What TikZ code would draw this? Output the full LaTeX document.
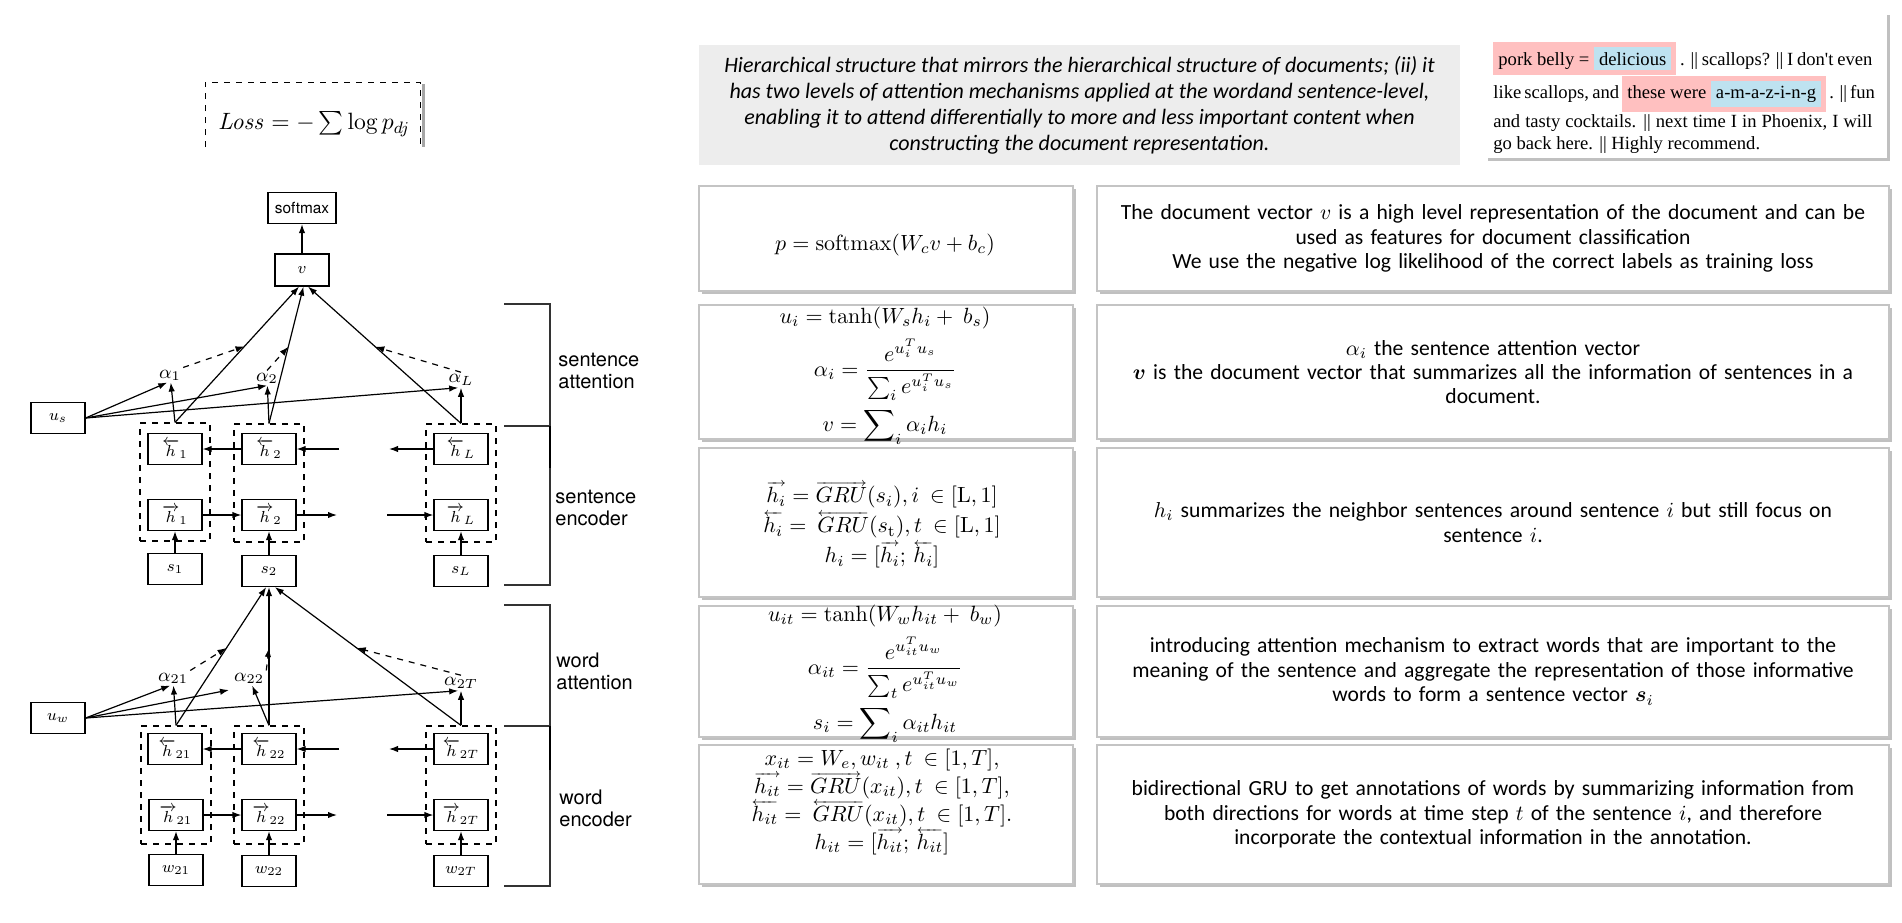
\RequirePackage{fix-cm}
\documentclass[tikz,border=0pt]{standalone}
\usepackage{amsmath, amssymb, bm}
\usepackage[no-math]{fontspec}
\setmainfont{Carlito}
\newfontfamily\helvfont{TeX Gyre Heros}
\newfontfamily\reviewfont{Liberation Serif}
\usepackage{tikz}
\usetikzlibrary{arrows.meta, calc, shadows}
\definecolor{PanelGray}{RGB}{237,237,237}
\definecolor{PanelEdge}{RGB}{196,196,196}
\definecolor{HLpink}{RGB}{255,192,192}
\definecolor{HLblue}{RGB}{190,226,240}
\newcommand{\hlpink}[1]{{\fboxsep=2.5pt\colorbox{HLpink}{#1}}}
\newcommand{\hlblue}[1]{{\fboxsep=2.5pt\colorbox{HLblue}{#1}}}
\newcommand{\fwdarrow}[1]{\mathord{\vbox{\offinterlineskip\ialign{##\crcr
	{\fontsize{6}{6}\selectfont\rightarrowfill}\crcr\noalign{\kern0.6pt}\hfil$#1$\hfil\crcr}}}}
\newcommand{\bwdarrow}[1]{\mathord{\vbox{\offinterlineskip\ialign{##\crcr
	{\fontsize{6}{6}\selectfont\leftarrowfill}\crcr\noalign{\kern0.6pt}\hfil$#1$\hfil\crcr}}}}

\begin{document}
\begin{tikzpicture}[x=0.5pt, y=-0.5pt,
	blk/.style={draw, line width=0.6pt, minimum width=27pt, minimum height=15.5pt, inner sep=0pt, font=\fontsize{8}{9}\selectfont},
	col/.style={draw, dashed, line width=0.6pt, minimum width=35pt, minimum height=59pt, inner sep=0pt},
	lbl/.style={inner sep=1pt, font=\fontsize{9.5}{10}\selectfont},
	arr/.style={-{Latex[length=4.5pt, width=3.2pt]}, line width=0.6pt},
	darr/.style={arr, dashed},
	brk/.style={line width=0.65pt, black!80},
	side/.style={anchor=west, align=left, inner sep=0pt, font=\helvfont\fontsize{10}{11}\selectfont},
	panel/.style={draw=PanelEdge, line width=0.9pt, fill=white, inner sep=0pt,
		drop shadow={shadow xshift=1.5pt, shadow yshift=-1.5pt, fill=black!45, opacity=0.55}},
	eq/.style={font=\fontsize{11}{13}\selectfont, inner sep=0pt},
	eqlines/.style={align=center, inner sep=0pt},
	desc/.style={align=center, text width=390pt, font=\fontsize{10.8}{12.2}\selectfont},
	rev/.style={anchor=base west, inner sep=0pt, font=\reviewfont\fontsize{9.3}{11}\selectfont}]

	\useasboundingbox (0,0) rectangle (1902,922);

	% --- loss ---
	\node[font=\fontsize{11.8}{14}\selectfont] (loss) at (314,124) {$\mathit{Loss} = -\sum \log p_{dj}$};
	\draw[gray!70, line width=1.5pt] (423,84) -- (423,147);
	\draw[dashed, line width=0.5pt] (205,147) -- (205,82) -- (420,82) -- (420,147);

	% --- sentence level ---
	\node[blk, minimum width=34pt, font=\helvfont\fontsize{7.7}{9}\selectfont] (sm) at (302,208) {softmax};
	\node[blk, minimum height=16pt] (v) at (302,270) {$v$};
	\node[blk] (us) at (58,418) {$u_s$};
	\node[col] (c1) at (175,482) {};
	\node[col] (c2) at (269,483) {};
	\node[col] (cL) at (461,483) {};
	\node[blk] (hb1) at (175,449) {$\overleftarrow{h}_1$};
	\node[blk] (hb2) at (269,449) {$\overleftarrow{h}_2$};
	\node[blk] (hbL) at (461,449) {$\overleftarrow{h}_L$};
	\node[blk] (hf1) at (175,515) {$\overrightarrow{h}_1$};
	\node[blk] (hf2) at (269,515) {$\overrightarrow{h}_2$};
	\node[blk] (hfL) at (461,515) {$\overrightarrow{h}_L$};
	\node[blk] (s1) at (175,569) {$s_1$};
	\node[blk] (s2) at (269,571) {$s_2$};
	\node[blk] (sL) at (461,571) {$s_L$};
	\node[lbl] (a1) at (170,375) {$\alpha_1$};
	\node[lbl] (a2) at (267,378) {$\alpha_2$};
	\node[lbl] (aL) at (461,380) {$\alpha_L$};
	\coordinate (gf1) at (337,515); \coordinate (gf2) at (387,515);
	\coordinate (gb1) at (339,449); \coordinate (gb2) at (389,449);
	\coordinate (m1) at ($(c1.north)!0.56!(v.260)$);
	\coordinate (m2) at ($(c2.north)!0.56!(v.275)$);
	\coordinate (mL) at ($(cL.north)!0.56!(v.290)$);

	\draw[arr] (v) -- (sm);
	\draw[arr] (s1) -- (hf1); \draw[arr] (s2) -- (hf2); \draw[arr] (sL) -- (hfL);
	\draw[arr] (hf1) -- (hf2); \draw[arr] (hf2) -- (gf1); \draw[arr] (gf2) -- (hfL);
	\draw[arr] (hb2) -- (hb1); \draw[arr] (gb1) -- (hb2); \draw[arr] (hbL) -- (gb2);
	\draw[arr] (c1.north) -- (a1); \draw[arr] (c2.north) -- (a2); \draw[arr] (cL.north) -- (aL);
	\draw[arr] (us.east) -- (a1.250); \draw[arr] (us.east) -- (a2.south); \draw[arr] (us.east) -- (aL.250);
	\draw[arr] (c1.north) -- (v.260); \draw[arr] (c2.north) -- (v.275); \draw[arr] (cL.north) -- (v.290);
	\draw[darr] (a1.north east) -- (m1); \draw[darr] (a2.north) -- (m2); \draw[darr] (aL.north) -- (mL);

	% --- word level ---
	\node[blk] (uw) at (58,718) {$u_w$};
	\node[col] (c21) at (176,785) {};
	\node[col] (c22) at (269,785) {};
	\node[col] (c2T) at (461,785) {};
	\node[blk] (hb21) at (175,749) {$\overleftarrow{h}_{21}$};
	\node[blk] (hb22) at (269,749) {$\overleftarrow{h}_{22}$};
	\node[blk] (hb2T) at (461,749) {$\overleftarrow{h}_{2T}$};
	\node[blk] (hf21) at (176,815) {$\overrightarrow{h}_{21}$};
	\node[blk] (hf22) at (269,815) {$\overrightarrow{h}_{22}$};
	\node[blk] (hf2T) at (461,815) {$\overrightarrow{h}_{2T}$};
	\node[blk] (w21) at (176,870) {$w_{21}$};
	\node[blk] (w22) at (269,871) {$w_{22}$};
	\node[blk] (w2T) at (461,871) {$w_{2T}$};
	\node[lbl] (a21) at (173,678) {$\alpha_{21}$};
	\node[lbl] (a22) at (249,678) {$\alpha_{22}$};
	\node[lbl] (a2T) at (461,683) {$\alpha_{2T}$};
	\coordinate (wf1) at (337,815); \coordinate (wf2) at (387,815);
	\coordinate (wb1) at (339,749); \coordinate (wb2) at (389,749);
	\coordinate (uwend) at (229,690);
	\coordinate (n21) at ($(c21.north)!0.56!(s2.260)$);
	\coordinate (n22) at ($(c22.north)!0.56!(s2.south)$);
	\coordinate (n2T) at ($(c2T.north)!0.56!(s2.290)$);

	\draw[arr] (w21) -- (hf21); \draw[arr] (w22) -- (hf22); \draw[arr] (w2T) -- (hf2T);
	\draw[arr] (hf21) -- (hf22); \draw[arr] (hf22) -- (wf1); \draw[arr] (wf2) -- (hf2T);
	\draw[arr] (hb22) -- (hb21); \draw[arr] (wb1) -- (hb22); \draw[arr] (hb2T) -- (wb2);
	\draw[arr] (c21.north) -- (a21); \draw[arr] (c22.north) -- (a22); \draw[arr] (c2T.north) -- (a2T);
	\draw[arr] (uw.east) -- (a21.250); \draw[arr] (uw.east) -- (uwend); \draw[arr] (uw.east) -- (a2T.250);
	\draw[arr] (c21.north) -- (s2.260); \draw[arr] (c22.north) -- (s2.south); \draw[arr] (c2T.north) -- (s2.290);
	\draw[darr] (a21.north east) -- (n21); \draw[darr] (a22.north east) -- (n22); \draw[darr] (a2T.north) -- (n2T);

	% --- brackets ---
	\draw[brk] (504,304) -- (550,304) -- (550,585) -- (504,585);
	\draw[brk] (504,426) -- (550,426);
	\draw[line width=1.3pt] (550,426) -- (550,468);
	\draw[brk] (504,605) -- (550,605) -- (550,886) -- (504,886);
	\draw[brk] (504,726) -- (550,726);
	\draw[line width=1.3pt] (550,726) -- (550,770);
	\node[side] (lsa) at (558,371) {sentence\\attention};
	\node[side] (lse) at (555,508) {sentence\\encoder};
	\node[side] (lwa) at (556,671) {word\\attention};
	\node[side] (lwe) at (559,808) {word\\encoder};

	% --- summary ---
	\node[fill=PanelGray, minimum width=380.5pt, minimum height=60pt, align=center,
		font=\fontsize{11}{13}\selectfont\itshape] (summ) at (1079.5,105)
		{Hierarchical structure that mirrors the hierarchical structure of documents; (ii) it\\
		 has two levels of attention mechanisms applied at the wordand sentence-level,\\
		 enabling it to attend differentially to more and less important content when\\
		 constructing the document representation.};

	% --- review ---
	\node[panel, draw=none, minimum width=201pt, minimum height=73pt] (review) at (1686,85) {};
	\node[rev] (r1) at (1493,65) {\makebox[189.5pt][s]{\hlpink{pork belly = \hlblue{delicious}} . || scallops? || I don't even}};
	\node[rev] (r2) at (1493,98) {\makebox[189.5pt][s]{like scallops, and \hlpink{these were \hlblue{a-m-a-z-i-n-g}} . || fun}};
	\node[rev] (r3) at (1493,127) {\makebox[189.5pt][s]{and tasty cocktails.  || next time I in Phoenix, I will}};
	\node[rev] (r4) at (1493,149) {go back here. || Highly recommend.};

	% --- equations ---
	\node[panel, minimum width=187pt, minimum height=52.5pt] (p1) at (886,238.5) {};
	\node[panel, minimum width=187pt, minimum height=67pt] (p2) at (886,372) {};
	\node[panel, minimum width=187pt, minimum height=74.5pt] (p3) at (886,522.5) {};
	\node[panel, minimum width=187pt, minimum height=65.5pt] (p4) at (886,671.5) {};
	\node[panel, minimum width=187pt, minimum height=69.5pt] (p5) at (886,814.5) {};
	\node[eq] (f1) at (885,245) {$p = \mathrm{softmax}(W_c v + b_c)$};
	\node[eq] (f2) at (885,375) {$\begin{gathered}
		u_i = \tanh(W_s h_i +\ b_s)\\
		\alpha_i = \frac{e^{u_i^T u_s}}{\sum_i e^{u_i^T u_s}}\\
		v = \sum\nolimits_i \alpha_i h_i
		\end{gathered}$};
	\node[eqlines, font={\fontsize{11}{15}\selectfont\lineskiplimit=-20pt}] (f3) at (882,525)
		{$\fwdarrow{h_i} = \fwdarrow{GRU}(s_i), i \ \in [\mathrm{L}, 1]$\\
		 $\bwdarrow{h_i} = \ \bwdarrow{GRU}(s_\mathrm{t}), t \ \in [\mathrm{L}, 1]$\\
		 $h_i = [\fwdarrow{h_i};\, \bwdarrow{h_i}]$};
	\node[eq] (f4) at (885,673) {$\begin{gathered}
		u_{it} = \tanh(W_w h_{it} +\ b_w)\\
		\alpha_{it} = \frac{e^{u_{it}^T u_w}}{\sum_t e^{u_{it}^T u_w}}\\
		s_i = \sum\nolimits_i \alpha_{it} h_{it}
		\end{gathered}$};
	\node[eqlines, font={\fontsize{11}{14}\selectfont\lineskiplimit=-20pt}] (f5) at (882,802)
		{$x_{it} = W_e, w_{it}\ , t \ \in [1, T],$\\
		 $\fwdarrow{h_{it}} = \fwdarrow{GRU}(x_{it}), t \ \in [1, T],$\\
		 $\bwdarrow{h_{it}} = \ \bwdarrow{GRU}(x_{it}), t \ \in [1, T].$\\
		 $h_{it} = [\fwdarrow{h_{it}};\, \bwdarrow{h_{it}}]$};

	% --- descriptions ---
	\node[panel, minimum width=396pt, minimum height=52.5pt] (d1) at (1493,238.5) {};
	\node[panel, minimum width=396pt, minimum height=67pt] (d2) at (1493,372) {};
	\node[panel, minimum width=396pt, minimum height=74.5pt] (d3) at (1493,522.5) {};
	\node[panel, minimum width=396pt, minimum height=65.5pt] (d4) at (1493,671.5) {};
	\node[panel, minimum width=396pt, minimum height=69.5pt] (d5) at (1493,814.5) {};
	\node[desc] (t1) at (d1) {The document vector $v$ is a high level representation of the document and can be\\
		used as features for document classification\\
		We use the negative log likelihood of the correct labels as training loss};
	\node[desc] (t2) at (d2) {$\alpha_i$ the sentence attention vector\\
		$\bm{v}$ is the document vector that summarizes all the information of sentences in a\\
		document.};
	\node[desc] (t3) at (d3) {$h_i$ summarizes the neighbor sentences around sentence $i$ but still focus on\\
		sentence $i$.};
	\node[desc] (t4) at (d4) {introducing attention mechanism to extract words that are important to the\\
		meaning of the sentence and aggregate the representation of those informative\\
		words to form a sentence vector $\bm{s}_i$};
	\node[desc] (t5) at (d5) {bidirectional GRU to get annotations of words by summarizing information from\\
		both directions for words at time step $t$ of the sentence $i$, and therefore\\
		incorporate the contextual information in the annotation.};
\end{tikzpicture}
\end{document}
